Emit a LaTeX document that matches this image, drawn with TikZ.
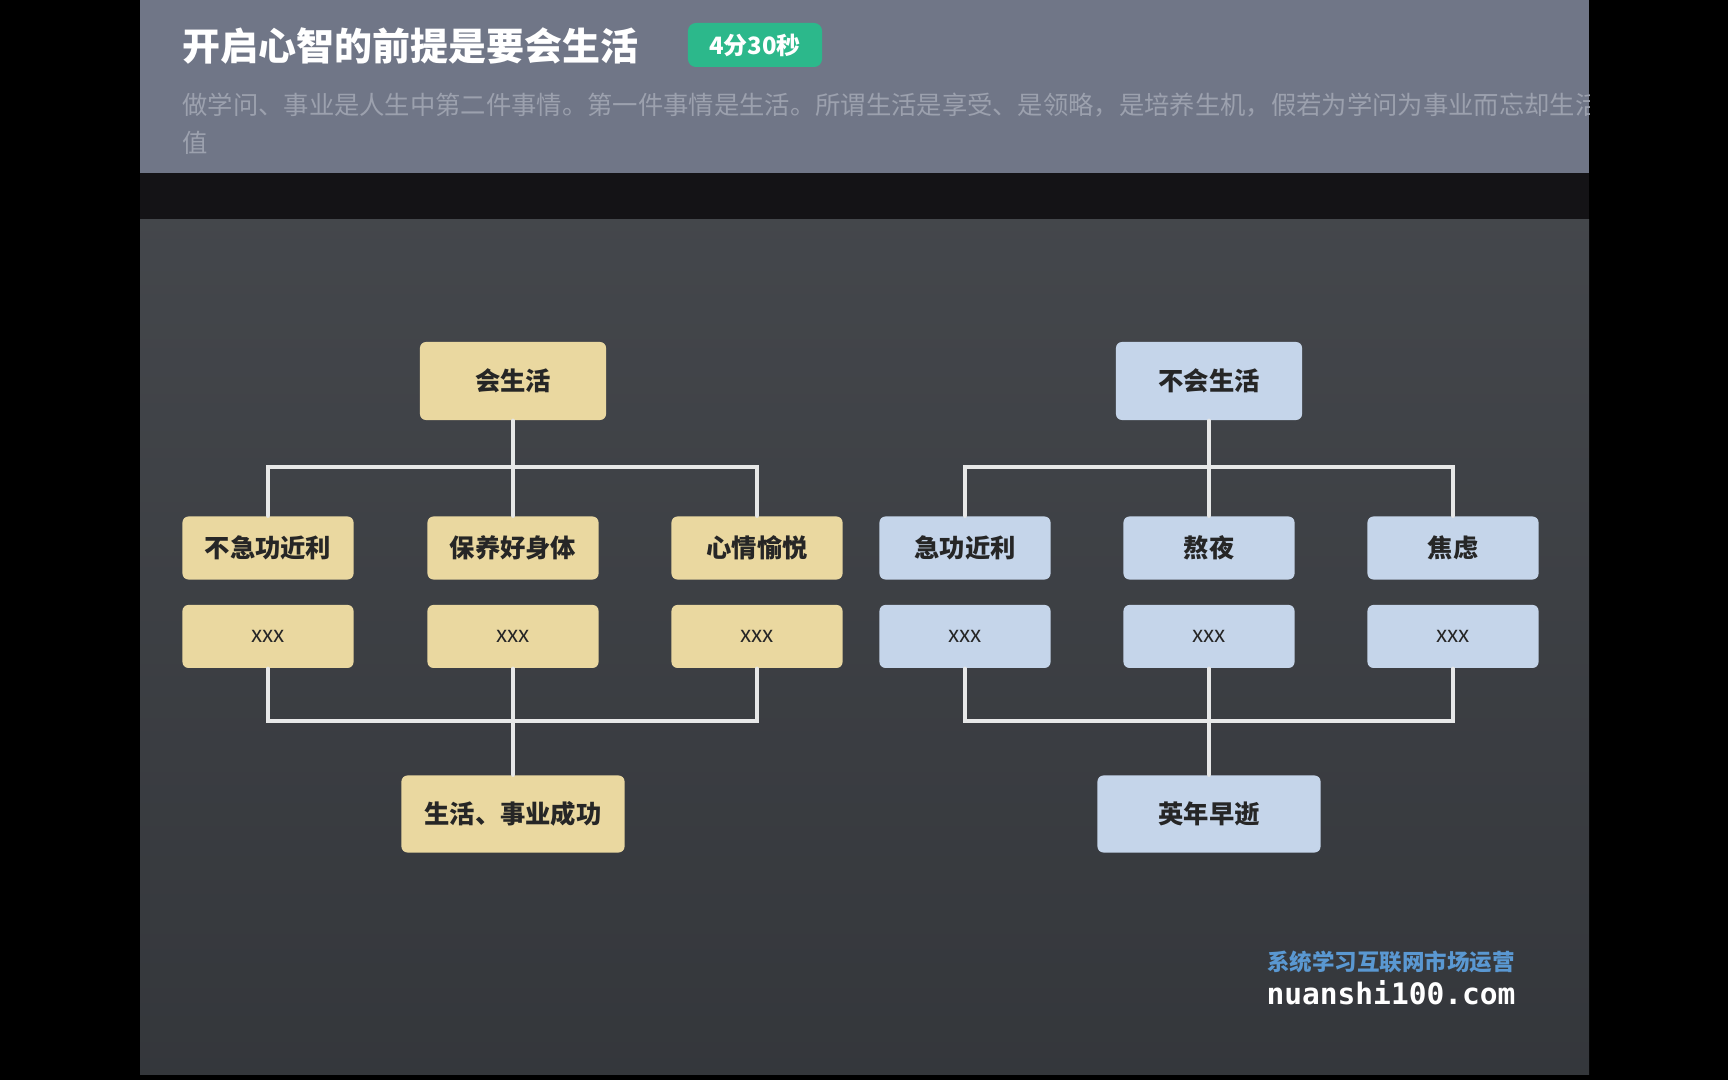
\documentclass[tikz,border=0pt]{standalone}
\usepackage{fontspec}
\newfontfamily\cjk{Noto Sans CJK SC}
\newfontfamily\mono{DejaVu Sans Mono}
\usetikzlibrary{positioning}
\definecolor{hdrgray}{HTML}{707687}
\definecolor{stripdark}{HTML}{141316}
\definecolor{board}{HTML}{3A3D42}
\definecolor{boxtan}{HTML}{EAD8A0}
\definecolor{boxblue}{HTML}{C5D5EA}
\definecolor{badgegreen}{HTML}{2CB88B}
\definecolor{subgray}{HTML}{9CA1AE}
\definecolor{markblue}{HTML}{5A98D2}

\begin{document}
\begin{tikzpicture}[x=0.01cm, y=-0.01cm, every node/.style={font=\cjk\bfseries}, v/.style={rounded corners=0.06cm, minimum width=1.71cm, minimum height=0.63cm, inner sep=0pt, text=black!85, font=\cjk\bfseries\fontsize{7.2}{8}\selectfont}, lv/.style={v, fill=boxtan}, rv/.style={v, fill=boxblue}, xv/.style={font=\cjk\fontsize{6.4}{7}\selectfont}, chalk/.style={draw=white!88!board, line width=1.2pt, line cap=round}]
	\useasboundingbox (0,0) rectangle (1728,1080);
	\fill[black] (0,0) rectangle (1728,1080);
	\fill[hdrgray] (140,0) rectangle (1589,173);
	\fill[stripdark] (140,173) rectangle (1589,220);
	% board, a little lighter at the top
	\shade[top color=board!95!white, bottom color=board!90!black] (140,220) rectangle (1589,1074);
	% header
	\node[anchor=west, text=white, font=\cjk\bfseries\fontsize{10.8}{13}\selectfont] (title) at (170,46) {开启心智的前提是要会生活};
	\node[fill=badgegreen, rounded corners=0.08cm, minimum width=1.34cm, minimum height=0.44cm, inner sep=0pt, text=white, font=\cjk\bfseries\fontsize{6.8}{8}\selectfont] (badge) at (755,45) {4分30秒};
	\begin{scope}
		\clip (140,80) rectangle (1589,170);
		\node[anchor=west, text=subgray, font=\cjk\fontsize{7.2}{8}\selectfont] (sub1) at (170,105) {做学问、事业是人生中第二件事情。第一件事情是生活。所谓生活是享受、是领略，是培养生机，假若为学问为事业而忘却生活};
		\node[anchor=west, text=subgray, font=\cjk\fontsize{7.2}{8}\selectfont] (sub2) at (170,143) {值};
	\end{scope}
	% left tree
	\node[lv, minimum width=1.86cm, minimum height=0.78cm] (hs) at (513,381) {会生活};
	\node[lv] (a1) at (268,548) {不急功近利};
	\node[lv] (a2) at (513,548) {保养好身体};
	\node[lv] (a3) at (757,548) {心情愉悦};
	\node[lv, xv, below=0.24cm of a1] (ax1) {xxx};
	\node[lv, xv, below=0.24cm of a2] (ax2) {xxx};
	\node[lv, xv, below=0.24cm of a3] (ax3) {xxx};
	\node[lv, minimum width=2.23cm, minimum height=0.77cm] (ok) at (513,814) {生活、事业成功};
	\coordinate (busA) at (513,467);
	\coordinate (busB) at (513,721);
	\draw[chalk] (hs) -- (busA);
	\draw[chalk] (a1.north) |- (busA) -| (a3.north);
	\draw[chalk] (busA) -- (a2);
	\draw[chalk] (ax1.south) |- (busB) -| (ax3.south);
	\draw[chalk] (ax2) -- (ok);
	% right tree
	\node[rv, minimum width=1.86cm, minimum height=0.78cm] (nhs) at (1209,381) {不会生活};
	\node[rv] (b1) at (965,548) {急功近利};
	\node[rv] (b2) at (1209,548) {熬夜};
	\node[rv] (b3) at (1453,548) {焦虑};
	\node[rv, xv, below=0.24cm of b1] (bx1) {xxx};
	\node[rv, xv, below=0.24cm of b2] (bx2) {xxx};
	\node[rv, xv, below=0.24cm of b3] (bx3) {xxx};
	\node[rv, minimum width=2.23cm, minimum height=0.77cm] (die) at (1209,814) {英年早逝};
	\coordinate (busC) at (1209,467);
	\coordinate (busD) at (1209,721);
	\draw[chalk] (nhs) -- (busC);
	\draw[chalk] (b1.north) |- (busC) -| (b3.north);
	\draw[chalk] (busC) -- (b2);
	\draw[chalk] (bx1.south) |- (busD) -| (bx3.south);
	\draw[chalk] (bx2) -- (die);
	% watermark
	\node[text=markblue, font=\cjk\bfseries\fontsize{6.4}{7}\selectfont] (mark) at (1391,962) {系统学习互联网市场运营};
	\node[text=white, font=\mono\bfseries\fontsize{8.4}{9}\selectfont] (site) at (1391,993) {nuanshi100.com};
\end{tikzpicture}
\end{document}
